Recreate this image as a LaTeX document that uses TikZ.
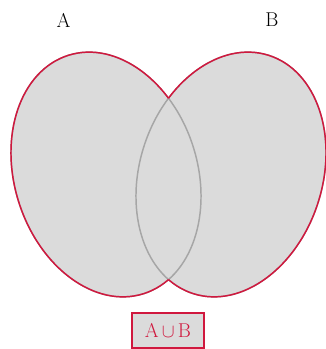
\documentclass[tikz,border=0pt]{standalone}
\usepackage{amssymb}
\usepackage{amsmath}
\usepackage{tikz}
\usetikzlibrary{calc}
\definecolor{setred}{RGB}{208,24,62}
\definecolor{setfill}{RGB}{219,219,219}
\definecolor{setline}{RGB}{166,166,166}
\tikzstyle{area} = [fill=setfill,draw=none]
\tikzstyle{inner} = [draw=setline,line width=1.1pt]
\tikzstyle{outer} = [draw=setred,line width=1.1pt]
\tikzstyle{result} = [draw=setred,line width=1.1pt,fill=setfill,text=setred,minimum width=54pt,minimum height=26pt,inner sep=0pt]
\tikzstyle{setname} = [inner sep=0pt]

\begin{document}
\begin{tikzpicture}[x=0.75pt,y=0.75pt]
\useasboundingbox (0,0) rectangle (325,349);

% the two sets
\path[area,rotate around={17.5:(106,174.5)}] (106,174.5) ellipse (91.5 and 125);
\path[area,rotate around={-17.5:(231,174.5)}] (231,174.5) ellipse (91.5 and 125);
\path[inner,rotate around={17.5:(106,174.5)}] (106,174.5) ellipse (91.5 and 125);
\path[inner,rotate around={-17.5:(231,174.5)}] (231,174.5) ellipse (91.5 and 125);

% outline of the union
\begin{scope}[even odd rule]
\clip (-10,-10) rectangle (335,359) [rotate around={-17.5:(231,174.5)}] (231,174.5) ellipse (91.5 and 125);
\path[outer,rotate around={17.5:(106,174.5)}] (106,174.5) ellipse (91.5 and 125);
\end{scope}
\begin{scope}[even odd rule]
\clip (-10,-10) rectangle (335,359) [rotate around={17.5:(106,174.5)}] (106,174.5) ellipse (91.5 and 125);
\path[outer,rotate around={-17.5:(231,174.5)}] (231,174.5) ellipse (91.5 and 125);
\end{scope}

\draw(63.5,329) node[setname] (A) {\fontsize{15}{18}\selectfont A};
\draw(272,329) node[setname] (B) {\fontsize{15}{18}\selectfont B};
\draw(168,18.5) node[result] (AB) {\fontsize{15}{18}\selectfont A$\,\cup\,$B};

\end{tikzpicture}
\end{document}
